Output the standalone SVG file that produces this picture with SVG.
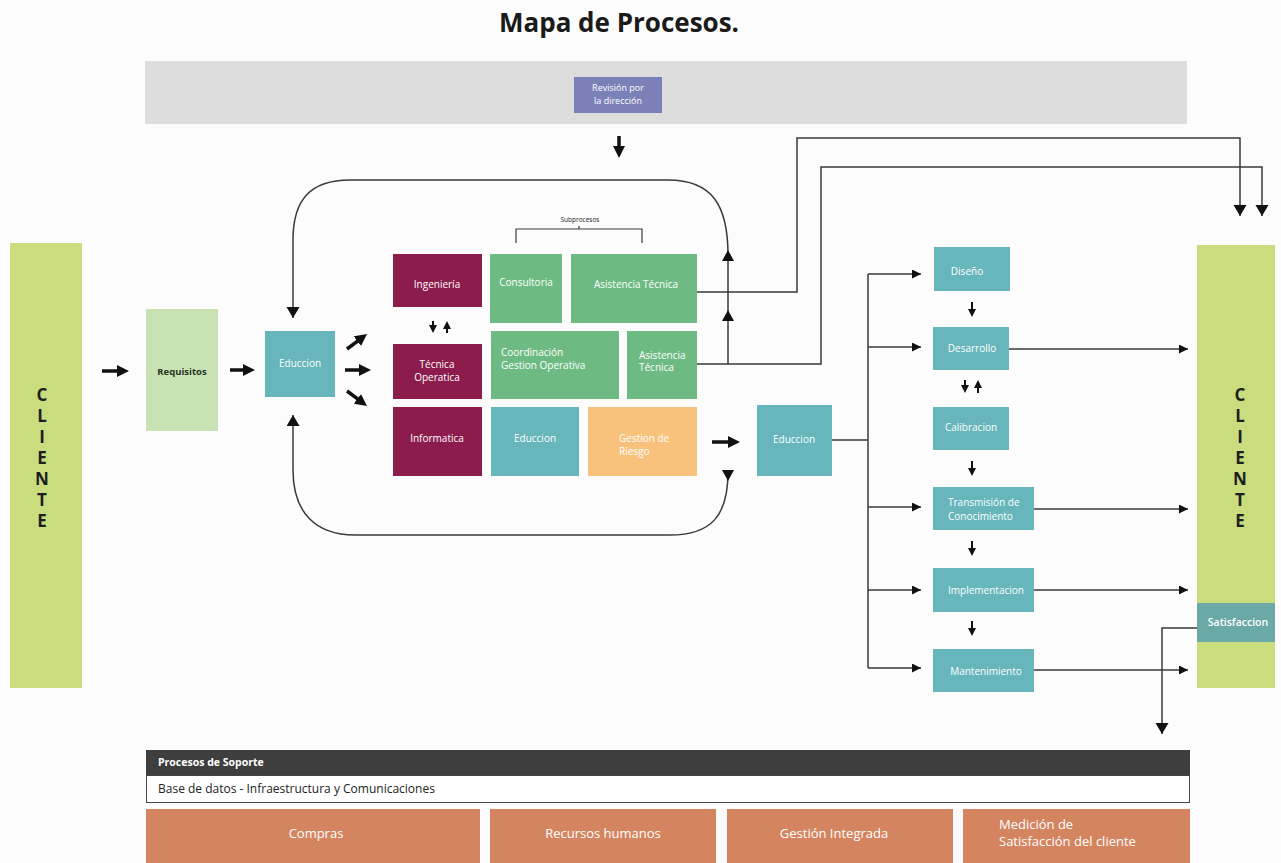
<svg xmlns="http://www.w3.org/2000/svg" width="1281" height="863" viewBox="0 0 1281 863">
  <defs>
    <style>
      text{font-family:"Open Sans","Noto Sans","DejaVu Sans",sans-serif}
      .w{fill:#ffffff;font-size:10px}
      .c{text-anchor:middle}
      .cl{font-size:17px;font-weight:700;fill:#1e1e1e;text-anchor:middle}
      .ln{fill:none;stroke:#3a3a3a;stroke-width:1.5}
      .ar{fill:none;stroke:#3a3a3a;stroke-width:1.5;marker-end:url(#ha)}
      .th{stroke:#111;stroke-width:3.5;marker-end:url(#hd)}
      .sm{stroke:#111;stroke-width:2;marker-end:url(#hs)}
      .tri{fill:#111}
      .teal{fill:#67b6bc}
      .maroon{fill:#8c1c4b}
      .green{fill:#6dbb82}
      .orange{fill:#d4855f}
      .ob{fill:#ffffff;font-size:13px}
    </style>
    <marker id="hd" markerUnits="userSpaceOnUse" markerWidth="13" markerHeight="12" refX="4" refY="6" orient="auto">
      <path d="M0,0 L12,6 L0,12 Z" fill="#111"/>
    </marker>
    <marker id="hs" markerUnits="userSpaceOnUse" markerWidth="9" markerHeight="8" refX="3" refY="4" orient="auto">
      <path d="M0,0 L8,4 L0,8 Z" fill="#111"/>
    </marker>
    <marker id="ha" markerUnits="userSpaceOnUse" markerWidth="10" markerHeight="9" refX="9" refY="4.5" orient="auto">
      <path d="M0,0 L9,4.5 L0,9 Z" fill="#111"/>
    </marker>
    <marker id="hb" markerUnits="userSpaceOnUse" markerWidth="13" markerHeight="14" refX="11" refY="6.5" orient="auto">
      <path d="M0,0 L11,6.5 L0,13 Z" fill="#111"/>
    </marker>
    <path id="up" d="M0,0 L6,11 L-6,11 Z"/>
    <path id="down" d="M0,0 L6,-11 L-6,-11 Z"/>
  </defs>

  <rect x="0" y="0" width="1281" height="863" fill="#fcfcfc"/>

  <text x="619" y="32" class="c" style="font-size:26px;font-weight:700;fill:#1a1a1a">Mapa de Procesos.</text>

  <!-- strategic band -->
  <g id="direccion">
    <rect x="145" y="61" width="1042" height="63" fill="#dddddd"/>
    <rect x="574" y="77" width="88" height="36" fill="#7c80b8"/>
    <text x="618" y="91" class="c" style="fill:#fff;font-size:9px">Revisión por</text>
    <text x="618" y="104" class="c" style="fill:#fff;font-size:9px">la dirección</text>
  </g>

  <!-- client columns: one vertical word each -->
  <g id="cliente-izq">
    <rect x="10" y="243" width="72" height="445" fill="#c9dd7f"/>
    <text class="cl"><tspan x="42" y="401">C</tspan><tspan x="42" dy="21">L</tspan><tspan x="42" dy="21">I</tspan><tspan x="42" dy="21">E</tspan><tspan x="42" dy="21">N</tspan><tspan x="42" dy="21">T</tspan><tspan x="42" dy="21">E</tspan></text>
  </g>
  <g id="cliente-der">
    <rect x="1197" y="245" width="78" height="443" fill="#c9dd7f"/>
    <text class="cl"><tspan x="1240" y="401">C</tspan><tspan x="1240" dy="21">L</tspan><tspan x="1240" dy="21">I</tspan><tspan x="1240" dy="21">E</tspan><tspan x="1240" dy="21">N</tspan><tspan x="1240" dy="21">T</tspan><tspan x="1240" dy="21">E</tspan></text>
  </g>
  <g id="satisfaccion">
    <rect x="1197" y="603" width="78" height="39" fill="#6aa9a6"/>
    <text x="1238" y="626" class="c" style="fill:#fff;font-size:10.5px;font-weight:600">Satisfaccion</text>
  </g>

  <g id="requisitos">
    <rect x="146" y="309" width="72" height="122" fill="#c9e2b3"/>
    <text x="182" y="375" class="c" style="fill:#253525;font-size:9.5px;font-weight:700">Requisitos</text>
  </g>
  <g id="educcion-1">
    <rect x="265" y="331" width="70" height="66" class="teal"/>
    <text x="300" y="367" class="w c">Educcion</text>
  </g>

  <!-- operational column -->
  <g id="ingenieria">
    <rect x="393" y="254" width="89" height="53" class="maroon"/>
    <text x="437" y="288" class="w c">Ingeniería</text>
  </g>
  <g id="tecnica-operatica">
    <rect x="393" y="344" width="89" height="55" class="maroon"/>
    <text x="437" y="368" class="w c">Técnica</text>
    <text x="437" y="381" class="w c">Operatica</text>
  </g>
  <g id="informatica">
    <rect x="393" y="407" width="89" height="69" class="maroon"/>
    <text x="437" y="442" class="w c">Informatica</text>
  </g>

  <g id="subprocesos">
    <text x="580" y="222" class="c" style="fill:#222;font-size:6.5px">Subprocesos</text>
    <path d="M516,243 V229 H642 V243 M579,229 V226" class="ln" style="stroke-width:1.2"/>
  </g>
  <g id="consultoria">
    <rect x="490" y="254" width="72" height="69" class="green"/>
    <text x="526" y="286" class="w c">Consultoria</text>
  </g>
  <g id="asistencia-1">
    <rect x="571" y="254" width="126" height="69" class="green"/>
    <text x="636" y="288" class="w c">Asistencia Técnica</text>
  </g>
  <g id="coordinacion">
    <rect x="491" y="331" width="128" height="68" class="green"/>
    <text x="501" y="356" class="w">Coordinación</text>
    <text x="501" y="369" class="w">Gestion Operativa</text>
  </g>
  <g id="asistencia-2">
    <rect x="627" y="331" width="70" height="68" class="green"/>
    <text x="639" y="359" class="w">Asistencia</text>
    <text x="639" y="371" class="w">Técnica</text>
  </g>
  <g id="educcion-2">
    <rect x="491" y="407" width="88" height="69" class="teal"/>
    <text x="535" y="442" class="w c">Educcion</text>
  </g>
  <g id="gestion-riesgo">
    <rect x="588" y="407" width="109" height="69" fill="#f8c27d"/>
    <text x="619" y="442" class="w">Gestion de</text>
    <text x="619" y="455" class="w">Riesgo</text>
  </g>

  <g id="educcion-3">
    <rect x="757" y="405" width="75" height="71" class="teal"/>
    <text x="794" y="443" class="w c">Educcion</text>
  </g>

  <!-- delivery chain -->
  <g id="diseno">
    <rect x="934" y="247" width="76" height="44" class="teal"/>
    <text x="967" y="275" class="w c">Diseño</text>
  </g>
  <g id="desarrollo">
    <rect x="933" y="327" width="76" height="43" class="teal"/>
    <text x="972" y="352" class="w c">Desarrollo</text>
  </g>
  <g id="calibracion">
    <rect x="933" y="407" width="76" height="43" class="teal"/>
    <text x="971" y="431" class="w c">Calibracion</text>
  </g>
  <g id="transmision">
    <rect x="933" y="487" width="101" height="43" class="teal"/>
    <text x="948" y="506" class="w">Transmisión de</text>
    <text x="948" y="520" class="w">Conocimiento</text>
  </g>
  <g id="implementacion">
    <rect x="933" y="568" width="101" height="44" class="teal"/>
    <text x="986" y="594" class="w c">Implementacion</text>
  </g>
  <g id="mantenimiento">
    <rect x="933" y="649" width="101" height="43" class="teal"/>
    <text x="986" y="675" class="w c">Mantenimiento</text>
  </g>

  <!-- support processes -->
  <g id="soporte">
    <rect x="146" y="750" width="1044" height="25" fill="#3e3e3e"/>
    <rect x="146.5" y="775.5" width="1043" height="27" fill="#ffffff" stroke="#444" stroke-width="1"/>
    <text x="158" y="766" style="fill:#fff;font-size:10.5px;font-weight:700">Procesos de Soporte</text>
    <text x="158" y="793" style="fill:#222;font-size:12px">Base de datos -  Infraestructura y Comunicaciones</text>
  </g>
  <g id="compras">
    <rect x="146" y="809" width="334" height="54" class="orange"/>
    <text x="316" y="838" class="ob c">Compras</text>
  </g>
  <g id="recursos-humanos">
    <rect x="490" y="809" width="226" height="54" class="orange"/>
    <text x="603" y="838" class="ob c">Recursos humanos</text>
  </g>
  <g id="gestion-integrada">
    <rect x="727" y="809" width="226" height="54" class="orange"/>
    <text x="834" y="838" class="ob c">Gestión Integrada</text>
  </g>
  <g id="medicion">
    <rect x="963" y="809" width="227" height="54" class="orange"/>
    <text x="999" y="829" class="ob">Medición de</text>
    <text x="999" y="846" class="ob">Satisfacción del cliente</text>
  </g>

  <g id="connectors">
    <!-- bold flow arrows -->
    <line x1="619" y1="136" x2="619" y2="150" class="th"/>
    <line x1="102" y1="371" x2="121" y2="371" class="th"/>
    <line x1="230" y1="370" x2="247" y2="370" class="th"/>
    <line x1="347" y1="349" x2="360.6" y2="338.8" class="th"/>
    <line x1="345" y1="370" x2="363" y2="370" class="th"/>
    <line x1="347" y1="391" x2="360.6" y2="401.2" class="th"/>
    <line x1="712" y1="442" x2="732" y2="442" class="th"/>

    <!-- small step arrows -->
    <line x1="433" y1="321" x2="433" y2="328" class="sm"/>
    <line x1="447" y1="333" x2="447" y2="326" class="sm"/>
    <line x1="972" y1="302" x2="972" y2="312" class="sm"/>
    <line x1="965" y1="380" x2="965" y2="388" class="sm"/>
    <line x1="978" y1="393" x2="978" y2="385" class="sm"/>
    <line x1="972" y1="461" x2="972" y2="471" class="sm"/>
    <line x1="972" y1="541" x2="972" y2="551" class="sm"/>
    <line x1="972" y1="621" x2="972" y2="631" class="sm"/>

    <!-- feedback loop -->
    <path d="M728,364 V255 C728,205 712,180 668,180 H350 C310,180 293,200 293,240 V318" class="ln" style="marker-end:url(#hb)"/>
    <path d="M728,472 C728,515 712,535 670,535 H355 C315,535 293,512 293,470 V415" class="ln" style="marker-end:url(#hb)"/>
    <use href="#up" x="728" y="250" class="tri"/>
    <use href="#up" x="728" y="310" class="tri"/>
    <use href="#down" x="728" y="481" class="tri"/>

    <!-- outputs of technical assistance -->
    <path d="M697,292 H797 V138 H1240 V216" class="ln" style="marker-end:url(#hb)"/>
    <path d="M697,364 H821 V167 H1262 V216" class="ln" style="marker-end:url(#hb)"/>

    <!-- distribution bus -->
    <path d="M832,440 H868 M868,274 V668" class="ln"/>
    <path d="M868,274 H921" class="ar"/>
    <path d="M868,347 H921" class="ar"/>
    <path d="M868,507 H921" class="ar"/>
    <path d="M868,590 H921" class="ar"/>
    <path d="M868,668 H921" class="ar"/>

    <!-- deliveries to client -->
    <path d="M1009,349 H1188" class="ar"/>
    <path d="M1034,509 H1188" class="ar"/>
    <path d="M1034,590 H1188" class="ar"/>
    <path d="M1034,670 H1188" class="ar"/>

    <!-- satisfaction feedback -->
    <path d="M1197,628 H1162 V734" class="ln" style="marker-end:url(#hb)"/>
  </g>
</svg>
